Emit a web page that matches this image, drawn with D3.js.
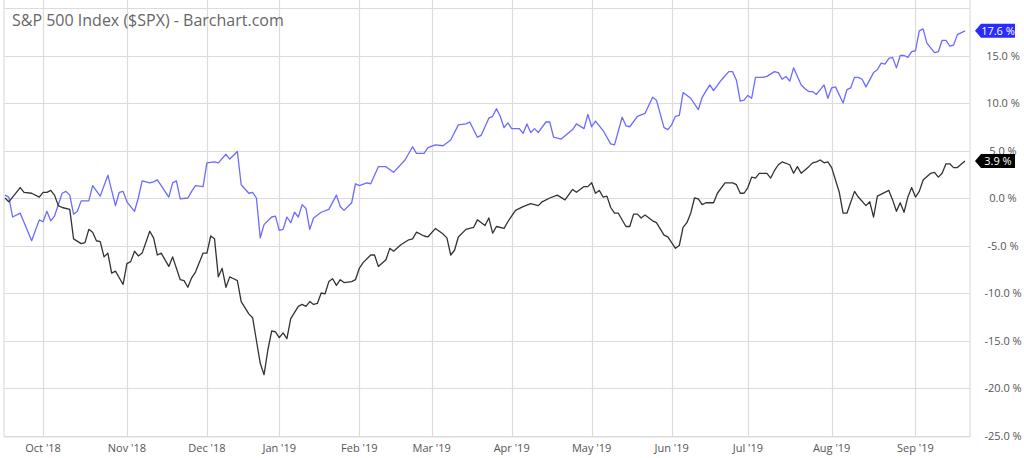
<!DOCTYPE html>
<html><head><meta charset="utf-8">
<script src="https://cdn.jsdelivr.net/npm/d3@7"></script>
<style>body{margin:0;background:#fff}svg{display:block;font-family:"Open Sans",sans-serif}</style>
</head><body><svg id="c" width="1024" height="458"></svg>
<script>
// trading-day index (0 = 17 Sep 2018) and % change
const compareT = [0,1,2,4,7,9,10,11,12,13,15,16,17,18,19,20,22,23,25,27,29,30,31,32,34,35,36,38,39,40,43,44,45,46,48,49,50,52,53,55,56,58,59,61,62,64,65,66,67,68,70,71,72,73,74,75,76,77,78,79,80,81,83,85,87,88,89,91,92,93,95,96,98,100,102,105,107,108,110,111,113,115,117,119,121,122,124,125,127,128,129,130,131,132,133,135,136,137,138,139,140,142,143,144,146,149,150,152,153,154,155,157,159,160,162,163,164,166,168,170,171,173,174,175,176,177,178,180,182,183,185,186,188,190,191,192,193,194,195,196,197,199,200,202,203,204,205,206,207,209,210,211,212,213,215,216,217,218,220,221,222,223,224,225,226,228,229,230,231,232,233,234,235,236,237,238,239,240,241,242,244,245,246,247,248,249,250,252];
const compareV = [0.3,0.1,-2.0,-1.6,-4.5,-2.3,-2.5,-1.4,-2.4,-1.9,0.5,0.7,0.3,-1.7,-1.4,-0.3,-0.3,1.3,0.2,2.4,-0.8,0.6,0.7,-0.4,-1.4,0,1.8,1.6,1.7,1.9,0.1,1.6,1.8,-0.1,0,0.7,1.3,1.2,3.7,3.8,3.7,4.6,4.1,4.9,1.4,0.5,0.6,0,-4.2,-2.8,-2.0,-1.9,-3.4,-3.3,-2.0,-2.6,-1.5,-2.0,-0.7,-1.1,-3.3,-2.1,-1.5,-1.2,0.3,-0.9,-1.3,-0.5,1.5,1.3,1.6,1.5,3.3,3.3,2.7,4.0,5.4,4.7,4.7,5.3,5.6,5.5,6.1,7.7,7.8,8.0,6.4,6.6,8.4,8.6,9.4,8.6,7.4,7.9,7.3,7.3,6.8,7.8,6.9,7.3,6.9,8.0,8.0,6.4,6.2,7.2,7.8,7.3,8.8,7.5,8.1,7.1,5.7,5.6,8.5,7.6,7.5,8.6,8.9,10.6,10.3,7.4,7.2,7.7,8.6,8.7,11.1,10.5,9.3,10.6,11.9,11.3,12.4,13.3,13.3,12.4,10.2,10.3,10.8,10.5,12.7,12.7,12.8,13.3,13.2,12.5,12.8,12.3,13.7,11.9,11.5,11.2,11.2,10.9,11.9,10.5,11.6,11.7,10.0,11.4,11.6,12.7,12.7,12.5,11.7,13.2,13.5,14.2,14.1,14.7,14.8,13.7,15.0,15.0,14.8,15.4,15.5,17.6,17.8,16.3,15.3,15.4,16.6,16.6,16.0,16.1,17.2,17.6];
const spxT = [0,1,4,5,7,9,10,11,12,13,14,15,17,18,20,21,22,23,24,25,26,27,28,29,31,32,33,34,35,36,38,39,40,41,43,44,46,47,48,49,50,52,53,54,55,56,57,58,59,60,61,62,64,65,66,67,68,69,70,71,72,73,74,75,77,78,79,80,81,82,83,84,85,86,87,88,89,91,92,93,94,96,97,98,100,101,102,104,106,107,108,110,111,113,115,116,117,118,119,121,123,124,126,127,128,129,131,132,134,136,138,140,141,143,145,147,149,150,152,153,154,155,156,157,158,159,160,161,163,164,165,166,167,168,170,171,173,174,176,177,178,179,180,181,182,183,184,186,187,189,191,192,193,194,195,196,197,198,200,201,202,203,204,206,207,208,209,211,212,213,214,215,216,217,219,220,221,223,224,226,227,228,229,232,233,234,235,236,237,238,239,240,241,243,244,245,246,247,248,249,250,252];
const spxV = [0.0,-0.4,1.1,0.6,0.5,0.1,0.6,0.6,0.8,0.3,-0.8,-1.0,-1.2,-4.3,-4.8,-4.7,-3.3,-3.6,-4.5,-4.6,-6.2,-5.8,-7.9,-7.7,-9.1,-6.9,-6.7,-5.6,-6.1,-5.8,-3.5,-4.2,-6.0,-5.8,-7.2,-6.2,-8.6,-8.7,-9.4,-8.4,-7.8,-5.8,-5.8,-4.0,-4.3,-8.3,-7.4,-9.4,-8.3,-8.5,-8.7,-10.9,-12.2,-12.6,-15.0,-17.4,-18.6,-16.0,-14.0,-14.1,-14.7,-14.2,-14.8,-12.7,-11.4,-11.2,-11.4,-10.9,-11.2,-11.1,-10.0,-10.1,-8.8,-8.5,-9.2,-8.6,-8.9,-8.8,-8.6,-7.4,-6.8,-6.0,-6.0,-7.2,-6.5,-5.3,-5.6,-4.9,-4.4,-4.3,-3.6,-4.0,-4.1,-3.2,-3.8,-4.2,-6.0,-5.5,-4.1,-3.3,-3.1,-2.3,-2.9,-2.1,-3.7,-3.0,-3.2,-2.5,-1.3,-0.9,-0.6,-0.8,-0.4,0,0.3,-0.2,0.9,0.6,1.2,1.2,1.6,0.5,0.8,0.1,0.2,-1.0,-1.6,-1.6,-3.0,-3.0,-1.7,-1.7,-2.1,-1.8,-2.4,-2.6,-3.9,-4.1,-5.3,-5.0,-3.1,-2.6,-1.6,0.0,-0.1,-0.7,-0.5,-0.5,0.5,1.6,1.6,1.4,0.5,0.5,1.1,2.2,2.1,2.6,2.6,2.1,2.9,3.5,3.8,3.5,2.6,3.3,2.6,3.3,3.7,3.8,4.0,3.7,3.8,3.2,0.6,-1.6,-1.6,0.7,0.1,-0.8,-0.4,-2.0,0.2,0.8,-0.2,-1.4,-0.5,-1.5,0.1,1.1,0.1,0.7,1.9,2.6,2.7,2.2,2.6,3.6,3.6,3.2,3.2,3.9];
const monthTicks = [10,32,53,72,93,112,133,154,175,195,217,239];
const monthLabels = ["Oct '18","Nov '18","Dec '18","Jan '19","Feb '19","Mar '19","Apr '19","May '19","Jun '19","Jul '19","Aug '19","Sep '19"];
const yTicks = [15,10,5,0,-5,-10,-15,-20,-25];
const gridY = [20,15,10,5,0,-5,-10,-15,-20,-25];
const title = "S&P 500 Index ($SPX) - Barchart.com";

const svg = d3.select("#c");
const x = d3.scaleLinear().domain([0,252]).range([5,965]);
const y = d3.scaleLinear().domain([-25,20]).range([435.5,8]);
const L = 4, R = 970;

svg.append("g").selectAll("line").data(gridY).join("line")
  .attr("x1",L).attr("x2",R).attr("y1",d=>Math.round(y(d))+0.5).attr("y2",d=>Math.round(y(d))+0.5)
  .attr("stroke","#dcdcdc").attr("stroke-width",1.2);
svg.append("g").selectAll("line").data(monthTicks).join("line")
  .attr("x1",d=>Math.round(x(d))+0.5).attr("x2",d=>Math.round(x(d))+0.5).attr("y1",0).attr("y2",437)
  .attr("stroke","#dcdcdc").attr("stroke-width",1.2);
svg.append("line").attr("x1",L).attr("x2",L).attr("y1",0).attr("y2",437).attr("stroke","#dcdcdc").attr("stroke-width",1.2);
svg.append("line").attr("x1",R).attr("x2",R).attr("y1",0).attr("y2",437).attr("stroke","#dcdcdc").attr("stroke-width",1.2);
svg.append("line").attr("x1",L).attr("x2",R).attr("y1",437).attr("y2",437).attr("stroke","#dcdcdc").attr("stroke-width",1.2);

svg.append("g").selectAll("text").data(monthTicks).join("text")
  .attr("x",d=>x(d)).attr("y",452).attr("text-anchor","middle")
  .attr("font-size",11).attr("fill","#555").text((d,i)=>monthLabels[i]);
svg.append("g").selectAll("text").data(yTicks).join("text")
  .attr("x",1003).attr("y",d=>y(d)+4).attr("text-anchor","middle")
  .attr("font-size",11).attr("fill","#555").text(d=>d.toFixed(1)+" %");

svg.append("text").attr("x",12).attr("y",26).attr("font-size",16).attr("fill","#666").text(title);

const line = d3.line().x(d=>x(d[0])).y(d=>y(d[1]));
svg.append("path").datum(compareT.map((t,i)=>[t,compareV[i]])).attr("d",line)
  .attr("fill","none").attr("stroke","#6b6bff").attr("stroke-width",1.3).attr("stroke-linejoin","round");
svg.append("path").datum(spxT.map((t,i)=>[t,spxV[i]])).attr("d",line)
  .attr("fill","none").attr("stroke","#333").attr("stroke-width",1.3).attr("stroke-linejoin","round");

function tag(v,color){
  const cy = y(v), x0 = 975, w = 40, h = 14;
  svg.append("path").attr("d",`M${x0},${cy} L${x0+6},${cy-h/2} L${x0+w},${cy-h/2} L${x0+w},${cy+h/2} L${x0+6},${cy+h/2} Z`).attr("fill",color);
  svg.append("text").attr("x",x0+6+(w-6)/2).attr("y",cy+4).attr("text-anchor","middle")
    .attr("font-size",11).attr("fill","#fff").text(v.toFixed(1)+" %");
}
tag(compareV[compareV.length-1],"#2b2bff");
tag(spxV[spxV.length-1],"#000");
</script></body></html>
